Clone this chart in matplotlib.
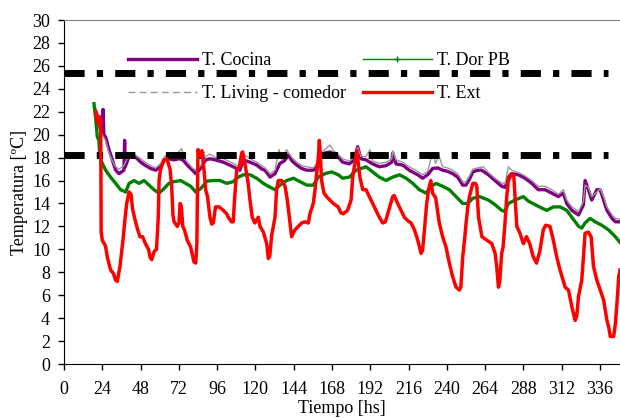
import matplotlib
matplotlib.use("Agg")
import matplotlib.pyplot as plt
from matplotlib.lines import Line2D

plt.rcParams['font.family'] = ['Liberation Serif', 'DejaVu Serif']
plt.rcParams['font.size'] = 13

# ---------------- data ----------------
ext_h = [20, 21, 22, 23, 23.3, 24, 26, 27.2, 29.2, 31, 32.4, 33.4, 35.1, 37.2, 38.2, 39.3,
         40.8, 42, 43, 44.5, 46, 47.6, 49.3, 51, 53, 54, 55, 56.5, 58, 59.1, 59.6, 60.4, 62.7,
         64.5, 66.5, 67.5, 68.3, 69, 71, 72.1, 72.8, 73.5, 74.5, 75.5, 77.3, 79.4, 80.5, 81.5,
         82.6, 83.3, 84, 85, 86.5, 87.8, 88.8, 90, 91.5, 92.6, 93.6, 95, 97.3, 99.9, 102, 103,
         105, 106.1, 107, 108.3, 110, 111.4, 112, 113, 114.5, 115.5, 116.6, 118, 119.7, 121.8,
         122.9, 125, 127.1, 128.1, 129, 130.2, 132.3, 133.3, 134.4, 136.5, 138.6, 140, 141.3,
         142.7, 144.8, 146.9, 149, 151, 153.2, 154.2, 156.3, 157.4, 158.4, 159.5, 160.1, 160.8,
         161.5, 163, 164.6, 166.7, 168.8, 171.9, 173.5, 175.1, 177.8, 180, 181, 182, 183.1,
         183.7, 184.5, 185.5, 187.3, 189.4, 191.4, 193.5, 195.6, 197.7, 199.8, 201.5, 203.6,
         206.1, 207, 209.2, 211.3, 213.4, 215.5, 217.6, 219.7, 221.8, 223.9, 224.8, 226, 227.4,
         228.6, 230, 231.1, 233, 235.3, 237.4, 239.5, 241.6, 243.7, 245.8, 247.9, 248.8, 250,
         251.1, 252.1, 253.2, 254.2, 256.3, 258, 258.8, 259.9, 262, 265.1, 268.2, 270.3, 271.3,
         272.4, 273.2, 274.4, 275.3, 276.5, 277.6, 278.6, 280.7, 282, 282.8, 283.9, 285.9, 288,
         290, 292, 294.2, 296.3, 298.4, 300.5, 302, 304.7, 306.8, 308.9, 311, 314.2, 316.3,
         318.4, 320.5, 321.5, 322.6, 324.6, 325.7, 326.7, 328.8, 330.5, 332, 334.1, 336.2,
         338.3, 340.4, 341.5, 342.5, 344.6, 345.7, 346.7, 347.8, 348.6]
ext_v = [22.0, 21.0, 21.6, 21.3, 11.5, 10.8, 10.3, 9.3, 8.2, 7.9, 7.3, 7.2, 8.5, 11.1, 12.6, 14.0,
         15.0, 14.8, 13.5, 12.6, 11.8, 11.1, 11.1, 10.5, 10.0, 9.3, 9.1, 9.8, 10.0, 12.8, 16.0, 16.9, 17.8,
         17.9, 17.0, 15.5, 13.0, 12.4, 12.0, 12.3, 14.0, 13.8, 12.0, 11.7, 10.8, 10.2, 9.5, 8.9,
         8.8, 10.5, 18.7, 18.2, 18.6, 16.9, 15.2, 14.6, 12.8, 12.2, 12.3, 13.7, 13.7, 13.4, 13.1, 12.8,
         12.4, 12.4, 14.5, 16.9, 17.2, 18.4, 18.5, 17.8, 16.6, 15.7, 14.3, 12.8, 12.3, 12.8,
         12.0, 11.5, 10.5, 9.2, 9.4, 11.2, 12.8, 15.2, 16.0, 16.0, 15.5, 14.3, 12.8,
         11.1, 11.7, 12.0, 12.3, 12.4, 12.3, 13.1, 14.0, 15.2, 16.6, 18.1, 19.5, 18.0,
         16.0, 14.9, 14.6, 14.3, 14.0, 13.7, 13.2, 13.1, 13.4, 14.3, 16.3, 17.2, 18.1,
         18.6, 17.5, 16.3, 15.2, 15.2, 14.6, 14.0, 13.4, 12.8, 12.3, 12.4, 13.4,
         14.6, 14.7, 14.0, 13.4, 12.8, 12.5, 12.3, 11.7, 10.8, 9.65, 9.9, 11.7, 14.0,
         15.2, 16.0, 14.9, 14.5, 12.3, 11.1, 10.2, 8.8, 7.6, 6.7, 6.45, 6.7, 9.35,
         10.8, 12.3, 13.7, 14.6, 15.75, 15.75, 15.5, 12.8, 11.1, 10.8, 10.5, 9.65, 8.5,
         6.7, 7.2, 9.65, 10.2, 12.3, 14.6, 16.0, 16.6, 16.4, 14.6, 12.0, 11.4, 10.5,
         11.1, 10.5, 9.35, 8.8, 9.9, 11.7, 12.1, 12.0, 10.8, 9.35, 8.2, 6.7, 6.45,
         5.0, 3.8, 4.2, 5.9, 7.3, 9.35, 11.4, 11.5, 11.1, 8.5, 7.3, 6.45,
         5.6, 3.8, 3.25, 2.4, 2.4, 3.5, 5.3, 7.6, 8.2]

cocina_h = [20.5, 22, 23.5, 24.5, 25, 26.1, 28.2, 30.3, 32.4, 34.5, 37.6, 38, 38.4, 40.8, 43.9,
            46, 48.1, 51.2, 54.3, 57.5, 60.6, 62.7, 65.8, 69, 72.1, 74.5, 77.3, 80.5, 82.6, 85.7,
            88.8, 91.5, 95, 99.9, 103, 106.1, 110.3, 112.4, 116.6, 120.8, 124, 126, 129.2, 132.3,
            135.4, 138, 140.7, 143, 145.9, 149, 152.2, 156.3, 158.4, 160.5, 163.6, 166.8, 171,
            174.7, 178.9, 182, 184.1, 186.2, 189.4, 193.5, 197.7, 201.9, 205.5, 206.1, 208.2,
            212.3, 216.5, 221.8, 224.9, 228, 231.1, 234.3, 237.4, 240.5, 243.7, 246.8, 250, 252,
            254.2, 256.3, 259.3, 261.9, 266.1, 270.2, 274.4, 276.5, 278.6, 280.7, 284.9, 289.1,
            293.3, 297.4, 301.6, 305.8, 310, 313.1, 315.2, 318.4, 322.6, 325.7, 326.7, 328.8,
            330.9, 334.1, 336.2, 338.3, 340.4, 343.6, 345.7, 348.6]
cocina_v = [21.8, 21.0, 20.0, 22.2, 20.0, 19.8, 18.7, 17.8, 16.9, 16.6, 16.9, 19.5, 17.2, 18.1, 18.1,
            17.9, 17.6, 17.3, 17.05, 16.9, 17.2, 17.8, 17.9, 17.8, 17.9, 17.8, 17.35, 16.9, 16.6, 17.05,
            17.8, 17.9, 17.8, 17.6, 17.4, 17.2, 16.9, 17.8, 17.6, 17.35, 17.0, 16.9, 16.3, 16.6,
            17.5, 17.7, 18.2, 17.7, 17.35, 17.05, 16.9, 16.9, 17.2, 18.1, 18.4, 18.5, 18.2,
            17.6, 17.45, 17.8, 18.95, 17.9, 17.8, 17.45, 17.2, 17.3, 17.6, 18.4, 17.45,
            17.35, 16.9, 16.5, 16.2, 16.5, 17.05, 17.1, 16.9, 16.8, 16.6, 16.3, 15.6, 15.6,
            16.1, 16.75, 16.9, 16.9, 16.5, 16.0, 15.5, 15.4, 16.3, 16.6, 16.5, 16.2,
            15.75, 15.2, 15.2, 14.9, 14.6, 14.9, 14.0, 13.4, 13.0, 13.9, 16.0, 15.2,
            14.3, 15.2, 15.2, 14.3, 13.4, 12.7, 12.4, 12.4]

living_h = [20, 21, 22.5, 24, 26, 28, 30, 32.4, 34.5, 37.6, 40.8, 44, 48, 51, 54.3, 57.5, 60.6,
            63, 66, 69, 72, 73.8, 75, 77.3, 80.5, 82.6, 85.7, 88.8, 91.5, 95, 100, 103, 106,
            110.3, 112.4, 116.6, 120.8, 124, 126, 129.2, 132.3, 134.8, 136.5, 139.6, 141, 143,
            146, 149, 152.2, 156.3, 158.4, 160.5, 163.6, 166.8, 169, 171, 174.7, 178.9, 182,
            184.1, 186.2, 189.4, 191.9, 193.5, 197.7, 202, 205.5, 206.1, 208.2, 212.3, 216.5,
            221.8, 224.9, 228, 231, 233, 235, 237.4, 240.5, 243.7, 246.8, 250, 252, 254.2, 256.3,
            259.3, 263, 266.1, 270.2, 274.4, 276.5, 278.6, 280.7, 284.9, 289.1, 293.3, 297.4,
            301.6, 305.8, 310, 313.1, 315.2, 318.4, 322.6, 325.7, 326.7, 328.8, 330.9, 334.1,
            336.2, 338.3, 340.4, 343.6, 345.7, 348.6]
living_v = [22.3, 21.7, 20.5, 20.0, 19.5, 18.5, 17.8, 17.2, 17.0, 17.3, 18.3, 18.3, 17.9, 17.6, 17.3,
            17.1, 17.5, 18.1, 18.2, 18.0, 18.5, 18.8, 18.1, 17.6, 17.1, 16.9, 17.3, 18.1, 18.3, 18.0,
            17.9, 17.7, 17.5, 17.2, 18.3, 17.9, 17.6, 17.3, 17.1, 16.6, 16.9, 18.7, 17.8, 18.7,
            18.4, 18.0, 17.6, 17.3, 17.2, 17.1, 17.5, 18.4, 18.7, 19.1, 18.6, 18.4, 17.9, 17.7,
            18.0, 18.9, 18.1, 18.1, 18.7, 17.7, 17.5, 17.6, 17.9, 18.6, 17.8, 17.6, 17.2,
            16.8, 16.5, 16.8, 18.4, 17.5, 18.2, 17.2, 17.1, 16.9, 16.6, 15.9, 15.9, 16.4, 17.0,
            17.1, 17.2, 16.7, 16.2, 15.8, 15.7, 17.2, 16.9, 16.7, 16.4, 16.0, 15.5,
            15.5, 15.2, 14.8, 15.2, 14.3, 13.7, 13.3, 14.2, 15.6, 15.4, 14.6, 15.0,
            15.3, 14.6, 13.7, 13.0, 12.7, 12.6]

dor_h = [18.8, 19.8, 20.9, 21.9, 22.5, 24, 26.1, 29.2, 32.4, 35.5, 38.7, 40.8, 43.9, 47, 50.2,
         53.3, 56.4, 59.6, 62.7, 65.8, 69, 73.1, 76.3, 79.4, 82.6, 85.7, 89.7, 93.6, 97.8, 102,
         106.1, 109.3, 112.4, 116.6, 120.8, 125, 128.1, 132.3, 135.4, 139.6, 143.8, 148, 152.2,
         156.3, 159.5, 163.6, 167.8, 172, 174.7, 178.9, 183.1, 189.4, 193.5, 197.7, 201.9,
         206.1, 210.3, 214.5, 218.7, 222.8, 227, 230.1, 233.3, 237.4, 241.6, 245.8, 250,
         253.1, 256.3, 260.5, 266.1, 270.2, 274.4, 276.5, 278.6, 282.8, 288, 291.2, 295.3,
         299.5, 302.7, 306.8, 311, 315.2, 318.4, 322.6, 324.6, 326.7, 329.9, 333, 337.2,
         341.4, 345.7, 348.6]
dor_v = [22.7, 21.5, 19.8, 19.5, 18.0, 17.5, 16.9, 16.3, 15.75, 15.2, 15.0, 15.75, 16.0, 15.75, 16.0,
         15.6, 15.2, 14.9, 15.3, 15.75, 15.9, 16.0, 15.75, 15.5, 15.0, 15.3, 15.95, 16.0, 16.0, 15.75,
         15.9, 16.3, 16.5, 16.5, 16.2, 15.75, 15.5, 15.2, 15.6, 16.0, 16.2, 15.9, 15.6,
         15.6, 16.3, 16.6, 16.75, 16.5, 16.2, 16.3, 16.9, 17.2, 16.75, 16.3, 16.0,
         16.3, 16.5, 16.2, 15.75, 15.2, 14.9, 15.5, 15.75, 15.5, 15.2, 14.6, 14.0,
         14.0, 14.45, 14.6, 14.3, 13.9, 13.4, 13.3, 14.0, 14.3, 14.6, 14.2, 13.9,
         13.6, 13.4, 13.7, 13.7, 13.4, 12.8, 12.0, 11.85, 12.3, 12.7, 12.4, 12.1,
         11.7, 11.1, 10.6]

ref_levels = [25.4, 18.2]
ref_span = [0, 341]

series_labels = ["T. Cocina", "T. Living - comedor", "T. Dor PB", "T. Ext"]
x_ticks = list(range(0, 337, 24))
y_ticks = list(range(0, 31, 2))

# ---------------- figure ----------------
fig = plt.figure(figsize=(6.2, 4.19), dpi=100)
ax = fig.add_axes([64 / 620, 55 / 419, 556 / 620, 344 / 419])

c_purple = '#800080'
c_gray = '#999999'
c_green = '#008000'
c_red = '#ff0000'

ax.plot(cocina_h, cocina_v, color=c_purple, lw=2.4, zorder=2)
ax.plot(living_h, living_v, color=c_gray, lw=1.0, zorder=2.1)
ax.plot(dor_h, dor_v, color=c_green, lw=2.4, zorder=2.2)
for lv in ref_levels:
    ax.plot(ref_span, [lv, lv], color='black', lw=5, dashes=(2.9, 1.75, 0.9, 1.75),
            solid_capstyle='butt', dash_capstyle='butt', zorder=2.5)
ax.plot(ext_h, ext_v, color=c_red, lw=2.5, zorder=3)

ax.set_xlim(0, 348.6)
ax.set_ylim(0, 30)
ax.set_xticks(x_ticks)
ax.set_yticks(y_ticks)
ax.tick_params(axis='x', direction='out', length=4, width=1, pad=8, colors='black')
ax.tick_params(axis='y', direction='out', length=4, width=1, pad=6, colors='black')
ax.spines['right'].set_visible(False)
ax.spines['top'].set_color('#808080')
ax.spines['left'].set_color('black')
ax.spines['bottom'].set_color('black')

ax.set_xlabel('Tiempo [hs]', labelpad=2)
ax.set_ylabel('Temperatura [ºC]', labelpad=3)

handles = [
    Line2D([], [], color=c_purple, lw=2.4),
    Line2D([], [], color=c_gray, lw=1.0, dashes=(5, 3)),
    Line2D([], [], color=c_green, lw=1.0, marker='+', markersize=5, markevery=[1]),
    Line2D([], [], color=c_red, lw=2.4),
]
leg = ax.legend(handles, series_labels, ncol=2, loc='upper left',
                bbox_to_anchor=(128 / 620, 367 / 419), bbox_transform=fig.transFigure,
                frameon=False, borderpad=0, borderaxespad=0, handlelength=3.8,
                handletextpad=0.3, columnspacing=0.95, labelspacing=0.9, fontsize=13)

fig.savefig('out.png', dpi=100)
